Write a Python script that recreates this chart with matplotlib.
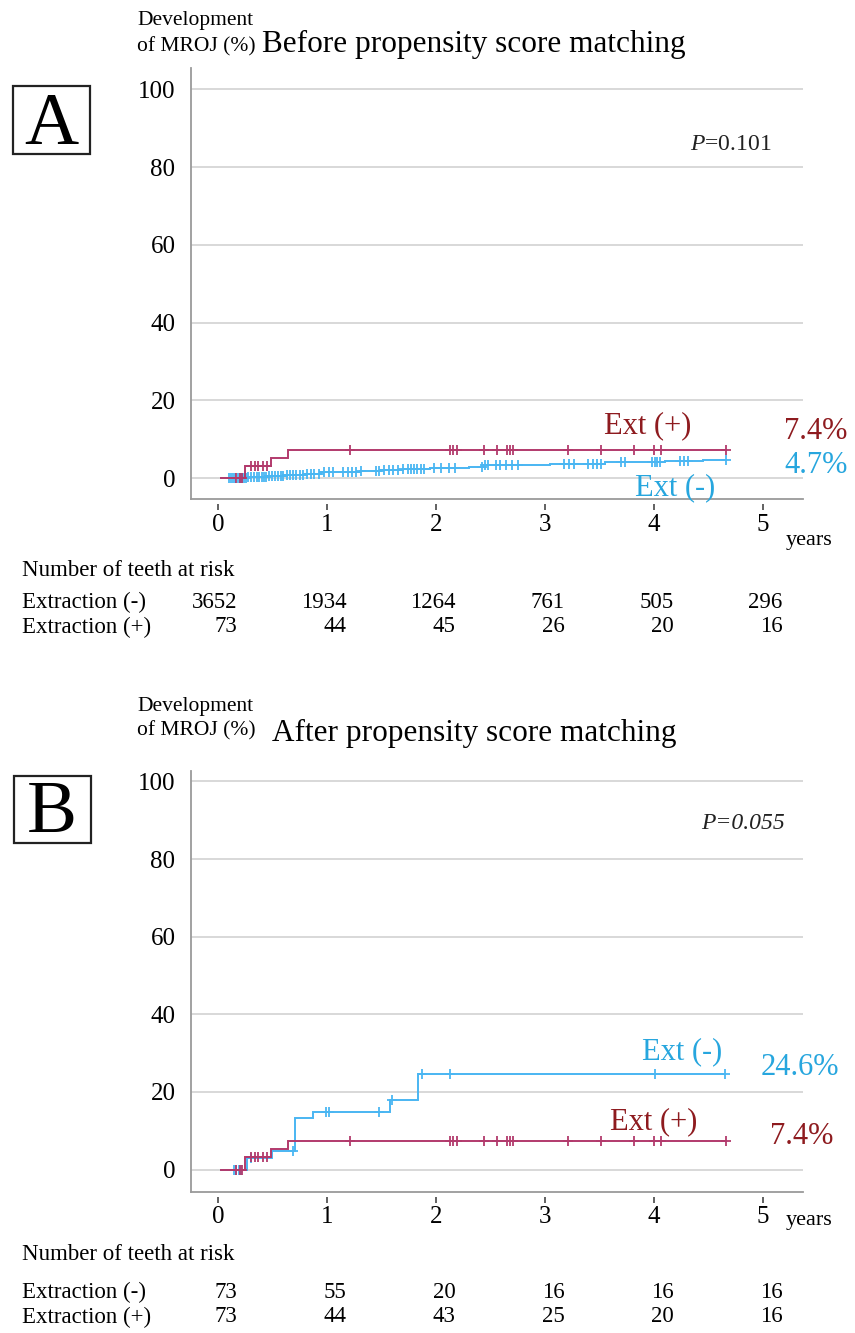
import numpy as np
import matplotlib
matplotlib.use("Agg")
import matplotlib.pyplot as plt
import matplotlib.transforms as mtransforms
from matplotlib.patches import Rectangle

plt.rcParams['font.family'] = ['Liberation Serif', 'DejaVu Serif']
plt.rcParams['mathtext.fontset'] = 'custom'
plt.rcParams['mathtext.rm'] = 'Liberation Serif'
plt.rcParams['mathtext.it'] = 'Liberation Serif:italic'

# ---------------- data ----------------
years = [0, 1, 2, 3, 4, 5]
yticks = [0, 20, 40, 60, 80, 100]

# Ext (+) group (same teeth in both panels)
extpos_event_times = [0.25, 0.49, 0.64]
extpos_event_cuminc = [3.2, 5.2, 7.4]
extpos_censor_times = [0.17, 0.20, 0.22, 0.30, 0.34, 0.37, 0.41, 0.45, 1.21,
                       2.13, 2.16, 2.19, 2.44, 2.56, 2.65, 2.68, 2.71, 3.21,
                       3.52, 3.82, 4.00, 4.07, 4.66]
extpos_end = 4.66

# Panel A, Ext (-)
a_extneg_event_times = [0.28, 0.45, 0.62, 0.80, 0.95, 1.10, 1.30, 1.50, 1.70,
                        1.95, 2.30, 2.45, 2.75, 3.05, 3.55, 4.10, 4.45]
a_extneg_event_cuminc = [0.3, 0.6, 0.9, 1.2, 1.5, 1.7, 1.9, 2.1, 2.3,
                         2.6, 2.9, 3.3, 3.5, 3.7, 4.1, 4.4, 4.7]
a_extneg_censor_times = [0.10, 0.12, 0.14, 0.16, 0.18, 0.20, 0.22, 0.24, 0.26,
                         0.28, 0.30, 0.33, 0.36, 0.38, 0.40, 0.42, 0.44, 0.47,
                         0.50, 0.52, 0.55, 0.58, 0.60, 0.63, 0.66, 0.69, 0.72,
                         0.75, 0.78, 0.82, 0.85, 0.88, 0.93, 0.97, 1.02, 1.06,
                         1.15, 1.19, 1.23, 1.27, 1.31, 1.45, 1.48, 1.52, 1.57,
                         1.61, 1.65, 1.70, 1.74, 1.77, 1.80, 1.83, 1.86, 1.89,
                         1.98, 2.05, 2.12, 2.18, 2.42, 2.45, 2.48, 2.55, 2.59,
                         2.64, 2.70, 2.75, 3.18, 3.22, 3.27, 3.40, 3.44, 3.48,
                         3.52, 3.70, 3.74, 3.98, 4.01, 4.03, 4.06, 4.24, 4.28,
                         4.31, 4.66]
a_extneg_end = 4.66

# Panel B, Ext (-)
b_extneg_event_times = [0.27, 0.50, 0.71, 0.87, 1.58, 1.84]
b_extneg_event_cuminc = [3.1, 4.8, 13.3, 14.8, 17.8, 24.6]
b_extneg_censor_times = [0.15, 0.17, 0.19, 0.21, 0.30, 0.69, 0.99, 1.02, 1.48,
                         1.60, 1.87, 2.13, 4.01, 4.65]
b_extneg_end = 4.65

curve_start = 0.03

risk_a_neg = [3652, 1934, 1264, 761, 505, 296]
risk_a_pos = [73, 44, 45, 26, 20, 16]
risk_b_neg = [73, 55, 20, 16, 16, 16]
risk_b_pos = [73, 44, 43, 25, 20, 16]

# ---------------- style ----------------
W, H = 855, 1333
C_POS_LINE = '#B23A6C'
C_POS_TEXT = '#8E1B1F'
C_NEG_LINE = '#4AB6F2'
C_NEG_TEXT = '#27A6DE'
C_GRID = '#d6d6d6'
C_SPINE = '#9a9a9a'

fig = plt.figure(figsize=(W / 100, H / 100), dpi=100)


def fx(px):
    return px / W


def fy(py):
    return 1 - py / H


def km_curve(ax, times, cuminc, censors, end, color, z):
    xs = [curve_start] + list(times) + [end]
    ys = [0.0] + list(cuminc) + [cuminc[-1]]
    ax.step(xs, ys, where='post', color=color, lw=1.4, zorder=z,
            solid_joinstyle='miter')
    levels = np.array([0.0] + list(cuminc))
    idx = np.searchsorted(np.array(times), np.array(censors), side='right')
    ax.plot(censors, levels[idx], ls='none', marker='+', ms=7, mew=1.3,
            color=color, zorder=z)


def panel(rect, ylim, neg, title, letter, top_px, box_px, pval, pval_style,
          pval_xy, labels, risk_neg, risk_pos, table_px):
    ax = fig.add_axes(rect)
    ax.set_xlim(-0.25, 5.365)
    ax.set_ylim(*ylim)
    for s in ['top', 'right']:
        ax.spines[s].set_visible(False)
    for s in ['left', 'bottom']:
        ax.spines[s].set_color(C_SPINE)
        ax.spines[s].set_linewidth(1.3)
    ax.set_yticks(yticks)
    ax.tick_params(axis='y', length=0, pad=11, labelsize=18)
    ax.tick_params(axis='x', bottom=False, labelbottom=False)
    ax.grid(axis='y', color=C_GRID, lw=1.3, zorder=0)
    ax.set_axisbelow(True)

    sec = ax.secondary_xaxis(-0.012)
    sec.spines['bottom'].set_visible(False)
    sec.set_xticks(years)
    sec.tick_params(axis='x', length=4, width=1.3, color='#555555',
                    labelsize=18, pad=3)

    km_curve(ax, neg[0], neg[1], neg[2], neg[3], C_NEG_LINE, 3)
    km_curve(ax, extpos_event_times, extpos_event_cuminc, extpos_censor_times,
             extpos_end, C_POS_LINE, 4)

    # curve labels
    for (txt, x, y, col) in labels:
        ax.text(x, y, txt, color=col, fontsize=22, ha='center', va='center',
                clip_on=False)

    ax.text(pval_xy[0], pval_xy[1], pval, fontsize=17, ha='center',
            va='center', color='#222222', fontstyle=pval_style)

    tr = mtransforms.blended_transform_factory(ax.transData, fig.transFigure)
    ax.text(5.43, fy(table_px[0]), 'years', fontsize=16, ha='center',
            va='center', transform=tr)

    # header texts
    fig.text(fx(137), fy(top_px[0]), 'Development', fontsize=15.5,
             ha='left', va='center')
    fig.text(fx(137), fy(top_px[1]), 'of MROJ (%)', fontsize=15.5,
             ha='left', va='center')
    fig.text(fx(474), fy(top_px[2]), title, fontsize=22.5, ha='center',
             va='center')

    # letter box
    x0, y0, x1, y1 = box_px
    fig.add_artist(Rectangle((fx(x0), fy(y1)), fx(x1) - fx(x0),
                             fy(y0) - fy(y1), transform=fig.transFigure,
                             fill=False, lw=1.6, ec='#222222'))
    fig.text(fx((x0 + x1) / 2), fy(y1 - 10.5), letter, fontsize=54,
             ha='center', va='baseline')

    # risk table
    fig.text(fx(22), fy(table_px[1]), 'Number of teeth at risk',
             fontsize=16.5, ha='left', va='center')
    fig.text(fx(22), fy(table_px[2]), 'Extraction (-)', fontsize=16.5,
             ha='left', va='center')
    fig.text(fx(22), fy(table_px[3]), 'Extraction (+)', fontsize=16.5,
             ha='left', va='center')
    for t, n in zip(years, risk_neg):
        ax.text(t + 0.18, fy(table_px[2]), str(n), transform=tr,
                fontsize=16.5, ha='right', va='center')
    for t, n in zip(years, risk_pos):
        ax.text(t + 0.18, fy(table_px[3]), str(n), transform=tr,
                fontsize=16.5, ha='right', va='center')
    return ax


axA = panel([fx(190.7), fy(499.3), fx(802.5) - fx(190.7), fy(68.3) - fy(499.3)],
            (-5.4, 105.4),
            (a_extneg_event_times, a_extneg_event_cuminc, a_extneg_censor_times,
             a_extneg_end),
            'Before propensity score matching', 'A',
            (20, 47, 44), (13.3, 86, 90, 154),
            r'$\mathit{P}$=0.101', 'normal', (4.71, 85.7),
            [('Ext (+)', 3.94, 13.6, C_POS_TEXT),
             ('7.4%', 5.49, 12.1, C_POS_TEXT),
             ('4.7%', 5.49, 3.4, C_NEG_TEXT),
             ('Ext (-)', 4.20, -2.3, C_NEG_TEXT)],
            risk_a_neg, risk_a_pos, (540, 570, 602, 627))

axB = panel([fx(190.7), fy(1191.7), fx(802.5) - fx(190.7), fy(771) - fy(1191.7)],
            (-5.7, 102.7),
            (b_extneg_event_times, b_extneg_event_cuminc, b_extneg_censor_times,
             b_extneg_end),
            'After propensity score matching', 'B',
            (706, 731, 733), (13.5, 776, 91, 843),
            'P=0.055', 'italic', (4.82, 89.2),
            [('Ext (-)', 4.26, 30.3, C_NEG_TEXT),
             ('24.6%', 5.34, 26.3, C_NEG_TEXT),
             ('Ext (+)', 4.00, 12.3, C_POS_TEXT),
             ('7.4%', 5.36, 8.5, C_POS_TEXT)],
            risk_b_neg, risk_b_pos, (1220, 1255, 1292, 1317))

fig.savefig('out.png', dpi=100)
